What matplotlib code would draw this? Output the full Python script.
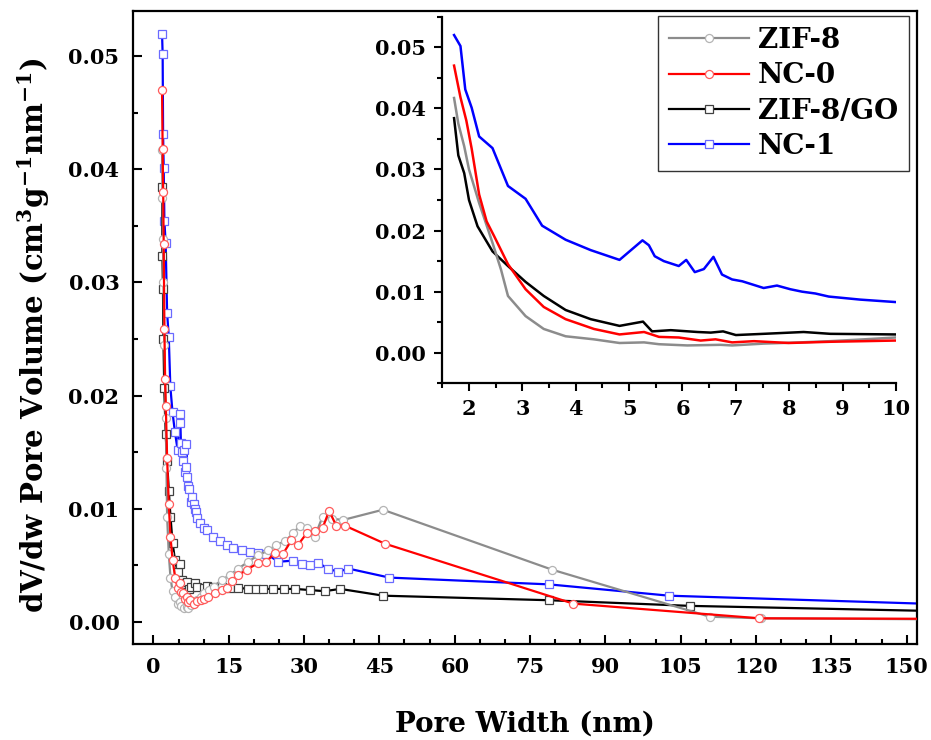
import matplotlib
matplotlib.use("Agg")
import matplotlib.pyplot as plt
from matplotlib.ticker import MultipleLocator

plt.rcParams['font.family'] = 'DejaVu Serif'
plt.rcParams['font.weight'] = 'bold'
plt.rcParams['mathtext.default'] = 'regular'

# pore width (nm) / dV/dw (cm3 g-1 nm-1)
zif8_x = [1.72, 1.80, 1.91, 2.00, 2.19, 2.44, 2.60, 2.73, 3.06, 3.40, 3.81, 4.34, 4.82,
          5.28, 5.56, 6.09, 6.71, 6.93, 7.52, 8.20, 8.77, 9.40, 9.99, 11.0, 12.0, 13.6,
          15.2, 16.9, 18.9, 20.9, 22.9, 24.5, 26.2, 27.8, 29.2, 30.5, 32.1, 33.7, 35.5,
          37.8, 45.7, 79.4, 110.8, 121.0, 160.0]
zif8_y = [0.0417, 0.0375, 0.0338, 0.0300, 0.0245, 0.0180, 0.0136, 0.0093, 0.0060, 0.0039,
          0.0027, 0.0022, 0.0016, 0.0017, 0.0014, 0.0012, 0.0013, 0.0012, 0.0015, 0.0017,
          0.0019, 0.0022, 0.0025, 0.0028, 0.0031, 0.0037, 0.0041, 0.0047, 0.0053, 0.0059,
          0.0063, 0.0068, 0.0071, 0.0078, 0.0085, 0.0083, 0.0075, 0.0093, 0.0091, 0.0090,
          0.0099, 0.0046, 0.00044, 0.0003, 0.0002]

nc0_x = [1.72, 1.84, 1.95, 2.05, 2.19, 2.33, 2.47, 2.73, 3.06, 3.40, 3.81, 4.34, 4.82,
         5.28, 5.56, 5.93, 6.34, 6.62, 6.93, 7.34, 7.99, 8.77, 9.40, 9.99, 10.9, 12.3,
         13.6, 14.6, 15.6, 16.9, 18.6, 20.9, 22.5, 24.2, 25.8, 27.5, 28.8, 30.5, 32.1,
         33.7, 35.0, 36.4, 38.1, 46.1, 83.6, 120.7, 160.0]
nc0_y = [0.0470, 0.0418, 0.0380, 0.0334, 0.0259, 0.0215, 0.0191, 0.0145, 0.0104, 0.0075,
         0.0055, 0.0039, 0.0030, 0.0034, 0.0026, 0.0025, 0.0020, 0.0022, 0.0017, 0.0019,
         0.0016, 0.0018, 0.0019, 0.0020, 0.0022, 0.0025, 0.0028, 0.0030, 0.0036, 0.0041,
         0.0046, 0.0052, 0.0053, 0.0061, 0.0060, 0.0072, 0.0068, 0.0078, 0.0080, 0.0083,
         0.0098, 0.0085, 0.0085, 0.0069, 0.0016, 0.0003, 0.00025]

zgo_x = [1.72, 1.80, 1.91, 2.00, 2.16, 2.44, 2.73, 3.06, 3.40, 3.81, 4.28, 4.82, 5.26,
         5.43, 5.78, 6.28, 6.53, 6.76, 7.00, 7.52, 8.27, 8.77, 9.99, 10.6, 11.9, 13.6,
         15.2, 16.9, 18.9, 20.4, 21.9, 23.9, 26.0, 28.2, 31.1, 34.1, 37.2, 45.8, 78.7,
         106.8, 160.0]
zgo_y = [0.0384, 0.0323, 0.0294, 0.0250, 0.0207, 0.0166, 0.0142, 0.0116, 0.0093, 0.0070,
         0.0055, 0.0044, 0.0051, 0.0035, 0.0037, 0.0034, 0.0033, 0.0035, 0.0029, 0.0031,
         0.0034, 0.0031, 0.0030, 0.0032, 0.0031, 0.0031, 0.0030, 0.0030, 0.0029, 0.0029,
         0.0029, 0.0029, 0.0029, 0.0029, 0.0028, 0.0027, 0.0029, 0.0023, 0.0019, 0.0014,
         0.0009]

nc1_x = [1.72, 1.84, 1.93, 2.05, 2.19, 2.44, 2.73, 3.06, 3.37, 3.81, 4.28, 4.82, 5.25,
         5.37, 5.48, 5.65, 5.93, 6.07, 6.23, 6.40, 6.58, 6.74, 6.93, 7.12, 7.52, 7.77,
         8.02, 8.24, 8.49, 8.74, 9.33, 9.99, 10.6, 11.9, 13.3, 14.6, 15.9, 17.6, 19.2,
         20.9, 22.5, 24.9, 27.8, 29.5, 31.1, 32.8, 34.8, 36.8, 38.8, 47.0, 78.8, 102.7,
         160.0]
nc1_y = [0.0520, 0.0502, 0.0431, 0.0401, 0.0354, 0.0335, 0.0273, 0.0252, 0.0208, 0.0185,
         0.0168, 0.0152, 0.0184, 0.0176, 0.0158, 0.0150, 0.0142, 0.0152, 0.0132, 0.0137,
         0.0157, 0.0128, 0.0120, 0.0117, 0.0106, 0.0110, 0.0104, 0.0100, 0.0097, 0.0092,
         0.0087, 0.0083, 0.0081, 0.0075, 0.0071, 0.0068, 0.0065, 0.0063, 0.0062, 0.0061,
         0.0060, 0.0053, 0.0054, 0.0051, 0.0050, 0.0052, 0.0047, 0.0044, 0.0047, 0.0039,
         0.0033, 0.0023, 0.0015]

series = {
    'ZIF-8': (zif8_x, zif8_y, '#8c8c8c', '#b4b4b4', 'o'),
    'NC-0': (nc0_x, nc0_y, '#ff0000', '#ff5a5a', 'o'),
    'ZIF-8/GO': (zgo_x, zgo_y, '#000000', '#404040', 's'),
    'NC-1': (nc1_x, nc1_y, '#0000ff', '#6a6aff', 's'),
}
draw_order = ['NC-1', 'ZIF-8/GO', 'ZIF-8', 'NC-0']
zorders = {'NC-1': 2, 'ZIF-8/GO': 3, 'ZIF-8': 4, 'NC-0': 5}

fig = plt.figure(figsize=(9.31, 7.40), dpi=100)
ax = fig.add_axes([0.1432, 0.1293, 0.8414, 0.8558])

handles = {}
for name in draw_order:
    x, y, lc, mc, mk = series[name]
    ms = 5.8 if mk == 'o' else 5.4
    line, = ax.plot(x, y, color=lc, lw=1.6, marker=mk, ms=ms, mfc='white',
                    mec=mc, mew=0.9, label=name, zorder=zorders[name])
    handles[name] = line

ax.set_xlim(-4, 152)
ax.set_ylim(-0.002, 0.054)
ax.xaxis.set_major_locator(MultipleLocator(15))
ax.xaxis.set_minor_locator(MultipleLocator(5))
ax.yaxis.set_major_locator(MultipleLocator(0.01))
ax.yaxis.set_minor_locator(MultipleLocator(0.005))
ax.yaxis.set_major_formatter(plt.FormatStrFormatter('%.2f'))
ax.tick_params(which='both', direction='in', width=1.5, top=False, right=False)
ax.tick_params(which='major', length=6.5, labelsize=15)
ax.tick_params(which='minor', length=3.5)
ax.tick_params(axis='x', pad=9)
ax.tick_params(axis='y', pad=10)
for s in ax.spines.values():
    s.set_linewidth(1.6)

fig.text(34 / 931, 0.547, r'dV/dw Pore Volume (cm$^{3}$g$^{-1}$nm$^{-1}$)',
         rotation=90, ha='center', va='center', fontsize=21, fontweight='bold')
fig.text(525 / 931, (740 - 724) / 740, 'Pore Width (nm)', ha='center', va='center',
         fontsize=20, fontweight='bold')

# inset: same data, 1.5-10 nm
ins = fig.add_axes([0.4751, 0.482, 0.4873, 0.4954])
ins.patch.set_alpha(0)
for name in draw_order:
    x, y, lc, mc, mk = series[name]
    ins.plot(x, y, color=lc, lw=1.8, zorder=zorders[name])
ins.set_xlim(1.5, 10)
ins.set_ylim(-0.005, 0.055)
ins.xaxis.set_major_locator(MultipleLocator(1))
ins.xaxis.set_minor_locator(MultipleLocator(0.5))
ins.yaxis.set_major_locator(MultipleLocator(0.01))
ins.yaxis.set_minor_locator(MultipleLocator(0.005))
ins.yaxis.set_major_formatter(plt.FormatStrFormatter('%.2f'))
ins.spines['top'].set_visible(False)
ins.spines['right'].set_visible(False)
for s in ['left', 'bottom']:
    ins.spines[s].set_linewidth(1.6)
ins.tick_params(which='both', direction='out', width=1.5)
ins.tick_params(which='major', length=6, labelsize=15)
ins.tick_params(which='minor', length=3.5)
ins.tick_params(axis='x', pad=5)
ins.tick_params(axis='y', pad=6)

leg = ins.legend(handles=[handles[n] for n in ['ZIF-8', 'NC-0', 'ZIF-8/GO', 'NC-1']],
                 loc='upper right', bbox_to_anchor=(909 / 931, (740 - 16) / 740),
                 bbox_transform=fig.transFigure, fontsize=20, frameon=True, fancybox=False,
                 handlelength=2.9, handletextpad=0.3, labelspacing=0.3, borderpad=0.4,
                 borderaxespad=0)
leg.get_frame().set_edgecolor('black')
leg.get_frame().set_linewidth(1.0)

fig.savefig('out.png', dpi=100)
